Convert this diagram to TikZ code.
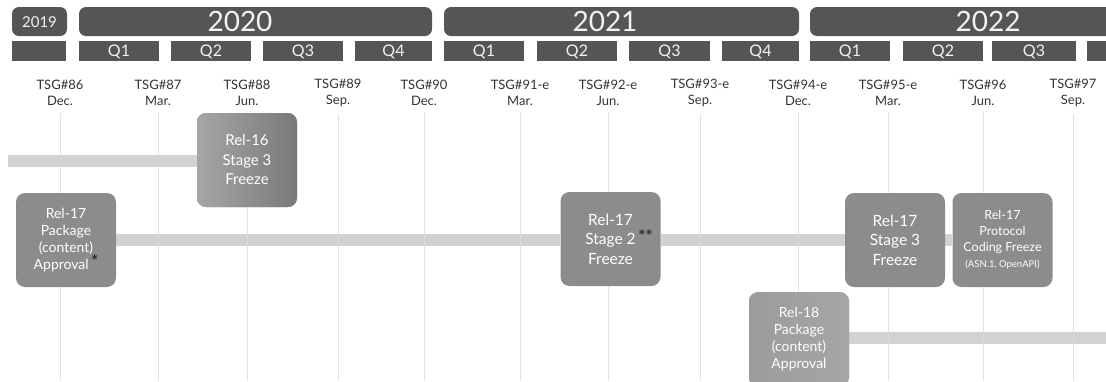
\documentclass[tikz,border=0pt]{standalone}
\usepackage{fontspec}
\setmainfont{Lato}
\usetikzlibrary{backgrounds}
\definecolor{headgray}{HTML}{555555}
\definecolor{headtext}{HTML}{F2F2F2}
\definecolor{labeltext}{HTML}{333333}
\definecolor{gridgray}{HTML}{DADADA}
\definecolor{trackgray}{HTML}{D2D2D2}
\definecolor{boxgray}{HTML}{8C8C8C}
\definecolor{stardark}{HTML}{2E2E2E}
\newcommand{\footmark}[1]{\raisebox{2pt}{\fontsize{17}{17}\selectfont\bfseries\color{stardark}#1}}
\tikzset{
  yearbar/.style={fill=headgray, rounded corners=7pt},
  quarterbar/.style={fill=headgray},
  yeartext/.style={text=headtext, inner sep=0pt, font=\fontsize{28}{30}\selectfont},
  smallyear/.style={text=headtext, inner sep=0pt, font=\fontsize{15}{17}\selectfont},
  qtext/.style={text=headtext, inner sep=0pt, font=\fontsize{16}{18}\selectfont},
  tsg/.style={text=labeltext, inner sep=0pt, align=center, font=\fontsize{13}{16}\selectfont},
  vline/.style={draw=gridgray, line width=1pt},
  track/.style={draw=trackgray, line width=12pt},
  milestone/.style={fill=boxgray, text=white, rounded corners=9pt, align=center,
    minimum width=100pt, minimum height=94pt, inner sep=0pt},
}
\begin{document}
\begin{tikzpicture}[x=1pt,y=-1pt]
\useasboundingbox (0,0) rectangle (1106,381);
\clip (0,0) rectangle (1106,381);
\coordinate (bottomline) at (0,381);
\coordinate (leftend) at (8,161);
\coordinate (rightend) at (1110,338);

% year headers
\path[yearbar] (12,7) rectangle (67,36);
\node[smallyear] (y2019) at (39.5,22) {2019};
\path[yearbar] (79,7) rectangle (432,36);
\node[yeartext] (y2020) at (240,21.5) {2020};
\path[yearbar] (444,7) rectangle (799,36);
\node[yeartext] (y2021) at (605,21.5) {2021};
\path[yearbar] (810,7) rectangle (1125,36);
\node[yeartext] (y2022) at (988,21.5) {2022};

% quarter bars
\path[quarterbar] (12,41) rectangle (66,61);
\foreach \xa/\xb/\q/\nm in {79/159/Q1/a1, 171/251/Q2/a2, 263/343/Q3/a3, 355/432/Q4/a4,
    444/524/Q1/b1, 537/617/Q2/b2, 629/710/Q3/b3, 722/799/Q4/b4,
    810/890/Q1/c1, 903/983/Q2/c2, 992/1076/Q3/c3} {
  \path[quarterbar] (\xa,41) rectangle (\xb,61);
  \node[qtext] (q\nm) at ({(\xa+\xb)/2},51.5) {\q};
}
\path[quarterbar] (1087,41) rectangle (1125,61);

% meeting labels
\node[tsg] (t86) at (60,93) {TSG\#86\\Dec.};
\node[tsg] (t87) at (158,93) {TSG\#87\\Mar.};
\node[tsg] (t88) at (247,93) {TSG\#88\\Jun.};
\node[tsg] (t89) at (338,93) {TSG\#89\\Sep.};
\node[tsg] (t90) at (424,93) {TSG\#90\\Dec.};
\node[tsg] (t91) at (520,93) {TSG\#91-e\\Mar.};
\node[tsg] (t92) at (608,93) {TSG\#92-e\\Jun.};
\node[tsg] (t93) at (700,93) {TSG\#93-e\\Sep.};
\node[tsg] (t94) at (798,93) {TSG\#94-e\\Dec.};
\node[tsg] (t95) at (888,93) {TSG\#95-e\\Mar.};
\node[tsg] (t96) at (983,93) {TSG\#96\\Jun.};
\node[tsg] (t97) at (1073,93) {TSG\#97\\Sep.};

% milestones
\node[milestone, left color=gray!70, right color=gray!95!black, font=\fontsize{15}{19.5}\selectfont]
  (r16s3) at (247,160) {Rel-16\\Stage 3\\Freeze};
\node[milestone, font=\fontsize{14}{17}\selectfont]
  (r17pkg) at (66,240) {Rel-17\\Package\\(content)\\Approval\,\footmark{*}};
\node[milestone, font=\fontsize{15.5}{19.5}\selectfont]
  (r17s2) at (610.5,239) {Rel-17\\Stage 2\rlap{\,\footmark{**}}\\Freeze};
\node[milestone, font=\fontsize{15.5}{19.5}\selectfont]
  (r17s3) at (895,240) {Rel-17\\Stage 3\\Freeze};
\node[milestone, font=\fontsize{12.5}{16}\selectfont]
  (r17asn) at (1002.5,240) {Rel-17\\Protocol\\Coding Freeze\\{\fontsize{9.5}{13}\selectfont (ASN.1, OpenAPI)}};
\node[milestone, left color=gray!78, right color=gray!70, font=\fontsize{14}{17}\selectfont, anchor=north]
  (r18pkg) at (799,292) {\raisebox{6pt}{\begin{tabular}{@{}c@{}}Rel-18\\Package\\(content)\\Approval\end{tabular}}};

\begin{scope}[on background layer]
  % release tracks
  \draw[track] (leftend) -- (leftend -| r16s3.west);
  \draw[track] (r17pkg.east) -- (r17pkg.east -| r17s2.west);
  \draw[track] (r17s2.east |- r17pkg.east) -- (r17s3.west);
  \draw[track] (r17s3.east) -- (r17asn.west);
  \draw[track] (r18pkg.east |- rightend) -- (rightend);
  % meeting grid lines
  \foreach \t in {t86,t87,t88,t89,t90,t91,t92,t93,t94,t95,t96,t97} {
    \draw[vline, draw opacity=0.8] ([yshift=-7pt]\t.south) -- (\t.south |- bottomline);
  }
\end{scope}
\end{tikzpicture}
\end{document}
